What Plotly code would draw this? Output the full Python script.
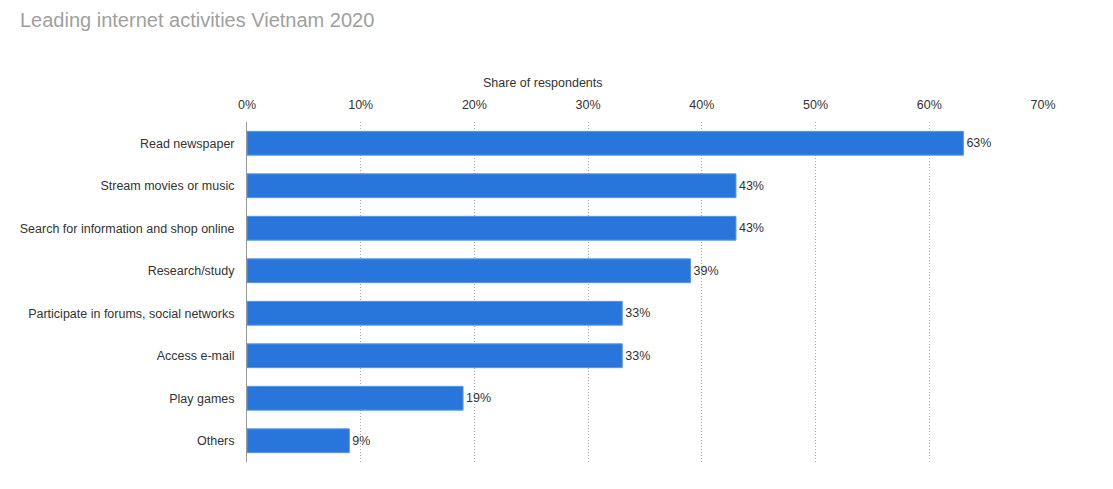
import plotly.graph_objects as go

categories = [
    "Read newspaper",
    "Stream movies or music",
    "Search for information and shop online",
    "Research/study",
    "Participate in forums, social networks",
    "Access e-mail",
    "Play games",
    "Others",
]
values = [63, 43, 43, 39, 33, 33, 19, 9]
tick_vals = [0, 10, 20, 30, 40, 50, 60, 70]
tick_text = ["0%", "10%", "20%", "30%", "40%", "50%", "60%", "70%"]

# page body has an 8px margin; compensate
OFF = 8
W, H = 1113 - 2 * OFF, 489 - 2 * OFF
L, R, T, B = 244 - OFF, 62, 122 - OFF, 19

FONT = "Liberation Sans, Arial, sans-serif"

fig = go.Figure(
    go.Bar(
        y=categories,
        x=values,
        orientation="h",
        marker=dict(color="#2875dc", line=dict(color="#5b97e6", width=1)),
        text=[f"{v}%" for v in values],
        textposition="outside",
        textfont=dict(size=12.5, color="#333333", family=FONT),
        cliponaxis=False,
        width=0.56,
    )
)

fig.update_layout(
    width=W,
    height=H,
    margin=dict(l=L, r=R, t=T, b=B, pad=0),
    paper_bgcolor="white",
    plot_bgcolor="white",
    font=dict(family=FONT, size=12.5, color="#333333"),
    showlegend=False,
    title=dict(
        text="Leading internet activities Vietnam 2020",
        xref="container",
        yref="container",
        x=(20 - OFF) / W,
        xanchor="left",
        y=1 - (20 - OFF) / H,
        yanchor="middle",
        font=dict(size=20, color="#a0a0a0", family=FONT),
    ),
    xaxis=dict(
        side="top",
        range=[0, 70],
        tickvals=tick_vals,
        ticktext=tick_text,
        showgrid=True,
        gridcolor="#a8a8a8",
        griddash="1px,2px",
        gridwidth=1,
        zeroline=False,
        showline=False,
        ticks="outside",
        ticklen=7,
        tickcolor="rgba(0,0,0,0)",
        tickfont=dict(size=12.5, color="#333333"),
        fixedrange=True,
    ),
    yaxis=dict(
        categoryorder="array",
        categoryarray=categories,
        autorange="reversed",
        showline=True,
        linecolor="#999999",
        linewidth=1,
        showgrid=False,
        ticks="outside",
        ticklen=9,
        tickcolor="rgba(0,0,0,0)",
        tickfont=dict(size=12.5, color="#333333"),
    ),
    annotations=[
        dict(
            text="Share of respondents",
            xref="paper",
            yref="paper",
            x=(541 - 244) / (W - L - R),
            y=1 + (122 - 83) / (H - T - B),
            xanchor="center",
            yanchor="middle",
            showarrow=False,
            font=dict(size=12.5, color="#333333"),
        )
    ],
)

fig.write_html("out.html")
